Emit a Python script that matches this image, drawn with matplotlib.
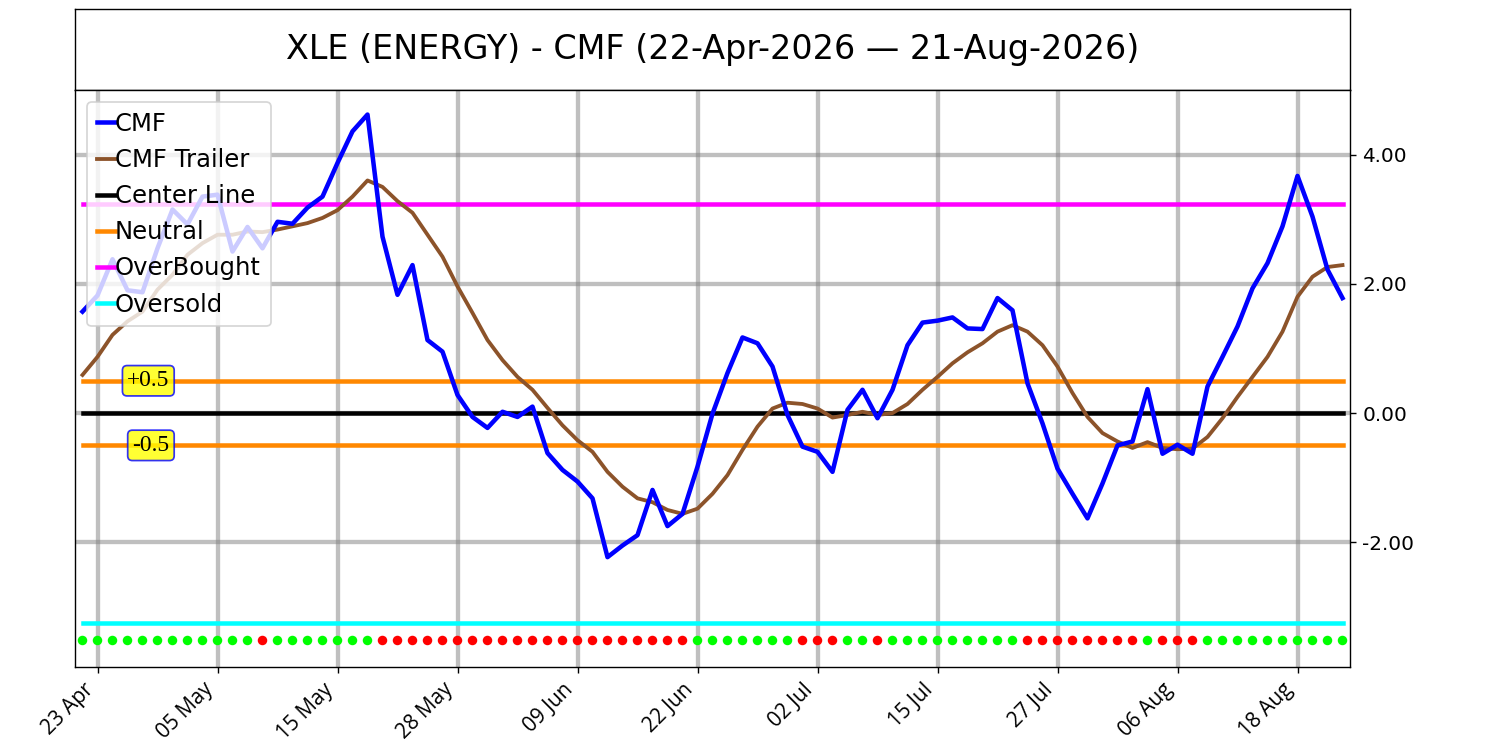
import numpy as np
import pandas as pd
import matplotlib
matplotlib.use('Agg')
import matplotlib.pyplot as plt

# ---- data ----
ticker = 'XLE (ENERGY)'
start_label = '22-Apr-2026'
end_label = '21-Aug-2026'
holidays = ['2026-05-25', '2026-06-19', '2026-07-03']

cmf = [1.57, 1.82, 2.38, 1.90, 1.87, 2.55, 3.15, 2.92, 3.35, 3.38,
       2.50, 2.88, 2.55, 2.96, 2.93, 3.18, 3.35, 3.87, 4.36, 4.62,
       2.73, 1.83, 2.29, 1.13, 0.95, 0.28, -0.06, -0.23, 0.02, -0.06,
       0.10, -0.62, -0.88, -1.06, -1.32, -2.23, -2.05, -1.89, -1.19, -1.75,
       -1.56, -0.83, -0.01, 0.62, 1.17, 1.08, 0.72, -0.03, -0.52, -0.60,
       -0.91, 0.05, 0.36, -0.08, 0.36, 1.05, 1.40, 1.43, 1.48, 1.31,
       1.30, 1.78, 1.59, 0.46, -0.16, -0.86, -1.25, -1.63, -1.09, -0.50,
       -0.44, 0.37, -0.63, -0.49, -0.63, 0.41, 0.87, 1.34, 1.93, 2.32,
       2.89, 3.67, 3.04, 2.22, 1.78]

trailer = [0.59, 0.87, 1.21, 1.42, 1.57, 1.91, 2.14, 2.45, 2.63, 2.76,
           2.76, 2.81, 2.80, 2.84, 2.89, 2.94, 3.02, 3.14, 3.35, 3.60,
           3.50, 3.28, 3.10, 2.76, 2.42, 1.96, 1.55, 1.13, 0.82, 0.56,
           0.36, 0.08, -0.19, -0.42, -0.60, -0.91, -1.14, -1.32, -1.38, -1.50,
           -1.56, -1.48, -1.25, -0.96, -0.57, -0.21, 0.07, 0.16, 0.14, 0.07,
           -0.07, -0.03, 0.02, -0.03, 0.00, 0.14, 0.36, 0.56, 0.77, 0.94,
           1.08, 1.26, 1.36, 1.26, 1.05, 0.72, 0.31, -0.06, -0.31, -0.44,
           -0.54, -0.45, -0.54, -0.56, -0.55, -0.37, -0.08, 0.25, 0.56, 0.87,
           1.26, 1.80, 2.11, 2.26, 2.29]

# G = green dot, R = red dot
signal = list('GGGGGGGGGGGGRGGGGGGGRRRRRRRRRRRRRRRRRRRRRGGGGGGGRRRGGRGGGGGGGGGRRRRRRRRGRRRGGGGGGGGGG')

center = 0.0
neutral = 0.5
overbought = 3.24
oversold = -3.25
dot_level = -3.52

dates = pd.bdate_range('2026-04-22', '2026-08-21', freq='C', holidays=holidays)
x = np.arange(len(cmf))
tick_pos = x[1::8]
tick_lab = [dates[i].strftime('%d %b') for i in tick_pos]

# ---- figure ----
fig = plt.figure(figsize=(12, 6), dpi=125)

# title box
tax = fig.add_axes([0.05, 0.88, 0.85, 0.108])
tax.set_xticks([])
tax.set_yticks([])
tax.text(0.5, 0.5, ticker + ' - CMF (' + start_label + ' \u2014 ' + end_label + ')',
         ha='center', va='center', fontsize=19.2, transform=tax.transAxes)

ax = fig.add_axes([0.05, 0.1107, 0.85, 0.7693])
ax.grid(True, color='gray', alpha=0.5, linewidth=2.5)
ax.set_axisbelow(True)

ax.plot(x, cmf, color='blue', lw=2.6, label='CMF', zorder=4)
ax.plot(x, trailer, color='#8c532a', lw=2.2, label='CMF Trailer', zorder=3)
ax.plot(x, np.full(len(x), center), color='black', lw=2.6, label='Center Line')
ax.plot(x, np.full(len(x), neutral), color='#ff8800', lw=2.6, label='Neutral')
ax.plot(x, np.full(len(x), -neutral), color='#ff8800', lw=2.6)
ax.plot(x, np.full(len(x), overbought), color='magenta', lw=2.6, label='OverBought')
ax.plot(x, np.full(len(x), oversold), color='cyan', lw=2.6, label='Oversold')

dot_col = ['#00ff00' if s == 'G' else 'red' for s in signal]
ax.scatter(x, np.full(len(x), dot_level), c=dot_col, s=30, zorder=5, linewidths=0)

box = dict(boxstyle='round,pad=0.2', fc='yellow', ec='blue', alpha=0.8)
ax.text(5.8, neutral, '+0.5', ha='right', va='center', fontsize=13.5,
        family='Liberation Serif', bbox=box, zorder=6)
ax.text(5.8, -neutral, '-0.5', ha='right', va='center', fontsize=13.5,
        family='Liberation Serif', bbox=box, zorder=6)

ax.set_xlim(-0.5, len(x) - 0.5)
ax.set_ylim(-3.93, 5.0)
ax.set_xticks(tick_pos)
ax.set_xticklabels(tick_lab, rotation=45, ha='right', fontsize=12, family='Open Sans')
ax.set_yticks([-2, 0, 2, 4])
ax.set_yticklabels(['%.2f' % v for v in [-2, 0, 2, 4]], fontsize=11.5)
ax.yaxis.tick_right()

ax.legend(loc='upper left', fontsize=14, handlelength=0.75, handletextpad=0.0)

plt.savefig('out.png', dpi=125)
